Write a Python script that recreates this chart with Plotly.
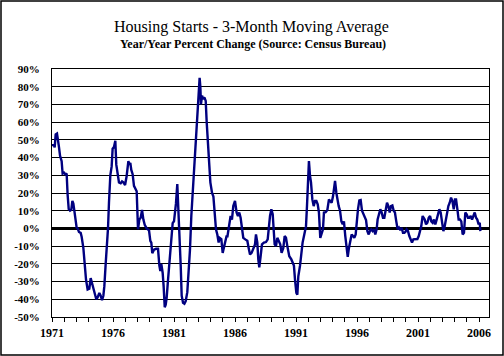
import plotly.graph_objects as go

# Decimal-year positions and 3-month moving average YoY % change
years_1971_1978 = [1971.00, 1971.16, 1971.22, 1971.30, 1971.41, 1971.49, 1971.57, 1971.66, 1971.79, 1971.87,
                   1971.98, 1972.09, 1972.20, 1972.28, 1972.37, 1972.48, 1972.58, 1972.67, 1972.75, 1972.83,
                   1972.91, 1973.02, 1973.10, 1973.21, 1973.35, 1973.43, 1973.57, 1973.68, 1973.79, 1973.92,
                   1974.06, 1974.17, 1974.28, 1974.39, 1974.52, 1974.63, 1974.74, 1974.88, 1974.99, 1975.10,
                   1975.21, 1975.29, 1975.40, 1975.51, 1975.59, 1975.67, 1975.78, 1975.89, 1975.97, 1976.08,
                   1976.19, 1976.27, 1976.38, 1976.49, 1976.63, 1976.74, 1976.85, 1976.99, 1977.12, 1977.26,
                   1977.34, 1977.42, 1977.50, 1977.61, 1977.72, 1977.83, 1977.94]
values_1971_1978 = [47, 47, 45.7, 53, 53.5, 47.5, 46, 41, 38, 31,
                    31.5, 30.5, 31, 19, 11, 10, 10.5, 15.5, 14, 10,
                    7, 0.5, 0, -2, -2.5, -4.7, -11, -21, -29, -34.5,
                    -34, -28, -31, -32.6, -36, -40, -39, -36.4, -38, -40.5,
                    -38, -32.6, -20, -10, 0, 14.5, 30, 35, 45, 46,
                    49.5, 36, 31.5, 26, 25.5, 26.5, 26, 24.5, 29.6, 38,
                    36, 37, 33, 30.6, 24, 22, 21]

years_1978_1985 = [1978.05, 1978.16, 1978.27, 1978.38, 1978.49, 1978.60, 1978.76, 1978.95, 1979.06, 1979.14,
                   1979.22, 1979.36, 1979.53, 1979.69, 1979.80, 1979.88, 1979.96, 1980.07, 1980.15, 1980.24,
                   1980.32, 1980.40, 1980.51, 1980.65, 1980.78, 1980.89, 1981.00, 1981.08, 1981.16, 1981.27,
                   1981.36, 1981.44, 1981.55, 1981.63, 1981.74, 1981.85, 1981.96, 1982.09, 1982.20, 1982.31,
                   1982.42, 1982.50, 1982.61, 1982.72, 1982.83, 1982.94, 1983.02, 1983.10, 1983.16, 1983.21,
                   1983.30, 1983.38, 1983.49, 1983.60, 1983.68, 1983.79, 1983.90, 1983.98, 1984.12, 1984.23,
                   1984.33, 1984.44, 1984.55, 1984.66, 1984.74, 1984.88, 1984.99, 1985.10, 1985.21, 1985.32]
values_1978_1985 = [-0.5, 5, 6, 10.5, 5, 2, 0, -1, -7, -8,
                    -14, -12, -11.5, -11.5, -21, -24, -20, -25, -32.6, -44.5,
                    -43, -39, -29, -17.5, -4.3, 3, 4, 9, 14, 25,
                    12.6, 1.3, -21, -38, -42, -42.5, -41, -36, -25, -12,
                    7, 16.4, 29.6, 41, 54, 63.6, 73, 85, 80, 70,
                    75, 73, 74, 72, 60, 50, 35, 26, 20, 18,
                    9, -0.5, -3.4, -8, -5.3, -6, -13.8, -10, -7, -4]

years_1985_1992 = [1985.37, 1985.48, 1985.64, 1985.75, 1985.86, 1986.00, 1986.13, 1986.24, 1986.35, 1986.46,
                   1986.57, 1986.68, 1986.84, 1987.01, 1987.12, 1987.23, 1987.36, 1987.50, 1987.64, 1987.72,
                   1987.83, 1987.91, 1987.99, 1988.10, 1988.21, 1988.37, 1988.54, 1988.68, 1988.76, 1988.87,
                   1988.98, 1989.09, 1989.17, 1989.25, 1989.36, 1989.47, 1989.58, 1989.71, 1989.82, 1989.96,
                   1990.07, 1990.18, 1990.29, 1990.45, 1990.62, 1990.72, 1990.83, 1990.92, 1991.03, 1991.11,
                   1991.19, 1991.33, 1991.43, 1991.54, 1991.68, 1991.82, 1991.90, 1991.98, 1992.06, 1992.15,
                   1992.23, 1992.34, 1992.45, 1992.56]
values_1985_1992 = [-5, 1.3, 7, 5, 12.6, 15.5, 9, 7, 9, 6,
                    -0.5, -5.3, -6.2, -7, -11, -14.7, -13.8, -11, -9, -3.4,
                    -8, -17.5, -22, -15.7, -9, -8, -7.7, -6.2, 1.3, 7,
                    10.8, 8, -0.6, -9, -10, -5.3, -7, -9, -13.8, -11,
                    -4.3, -5.3, -10, -15.7, -17.5, -19.4, -21, -29, -36.4, -37.4,
                    -27, -21, -13.8, -8, -3.4, 1.3, 12.6, 27.7, 38, 29.6,
                    26, 16.4, 12.6, 15.5]

years_1992_1999 = [1992.67, 1992.78, 1992.88, 1992.99, 1993.10, 1993.21, 1993.29, 1993.43, 1993.57, 1993.70,
                   1993.79, 1993.92, 1994.03, 1994.11, 1994.20, 1994.31, 1994.39, 1994.50, 1994.61, 1994.72,
                   1994.83, 1994.93, 1995.04, 1995.15, 1995.24, 1995.34, 1995.45, 1995.56, 1995.67, 1995.78,
                   1995.89, 1995.97, 1996.08, 1996.19, 1996.30, 1996.41, 1996.52, 1996.63, 1996.74, 1996.85,
                   1996.96, 1997.06, 1997.17, 1997.28, 1997.39, 1997.50, 1997.61, 1997.69, 1997.80, 1997.91,
                   1998.02, 1998.13, 1998.24, 1998.35, 1998.46, 1998.57, 1998.68, 1998.79, 1998.90, 1999.01,
                   1999.11, 1999.22, 1999.33, 1999.44, 1999.55, 1999.66, 1999.77]
values_1992_1999 = [15.5, 13.6, 9, -5.3, -2.5, -0.5, 9, 9.2, 10.4, 16.4,
                    15.5, 14.5, 18, 22, 26.8, 20, 15.5, 12.6, 10, 4,
                    2.3, 4, -4.3, -12, -16, -11, -7, -3.4, -4.3, -5.3,
                    -3.4, 5, 10.8, 15.8, 16, 10, 8, 6, 4.7, -1.5,
                    -3.4, -1.5, -0.6, -1.5, -0.5, -3.4, -0.5, 5, 8, 10.8,
                    9, 6, 6, 10.8, 14.5, 12.6, 9, 12.6, 13, 10,
                    9, 4, -0.5, 0.4, -1, 0.4, -2.5]

years_1999_2006 = [1999.88, 1999.96, 2000.07, 2000.18, 2000.29, 2000.40, 2000.51, 2000.62, 2000.78, 2000.95,
                   2001.06, 2001.17, 2001.27, 2001.38, 2001.47, 2001.55, 2001.66, 2001.77, 2001.88, 2001.99,
                   2002.09, 2002.20, 2002.31, 2002.42, 2002.53, 2002.64, 2002.75, 2002.86, 2002.97, 2003.08,
                   2003.19, 2003.27, 2003.38, 2003.49, 2003.60, 2003.71, 2003.82, 2003.93, 2004.03, 2004.12,
                   2004.23, 2004.33, 2004.44, 2004.55, 2004.66, 2004.77, 2004.88, 2004.99, 2005.10, 2005.21,
                   2005.32, 2005.43, 2005.54, 2005.65, 2005.76, 2005.86, 2005.97, 2006.06, 2006.11]
values_1999_2006 = [-2.5, -2, -0.5, -1.5, -4.3, -6.2, -8, -6.2, -6.2, -6,
                    -4.3, -1.5, 1.3, 7, 6, 5, 2.3, 3.2, 6, 7,
                    4, 3.2, 5, 2.3, 5, 9, 10.8, 9, 3.2, -1.5,
                    1.3, 5, 9, 12.6, 14.5, 17.4, 15.5, 10.8, 16.4, 16.4,
                    10.8, 5, 5, 4, -3.4, -2.5, 9, 8, 6, 6,
                    7, 5, 7, 9, 6, 5, 2.3, 3.2, -1.5]

years = years_1971_1978 + years_1978_1985 + years_1985_1992 + years_1992_1999 + years_1999_2006
values = values_1971_1978 + values_1978_1985 + values_1985_1992 + values_1992_1999 + values_1999_2006

x_tick_vals = [1971, 1976, 1981, 1986, 1991, 1996, 2001, 2006]
x_tick_text = ["1971", "1976", "1981", "1986", "1991", "1996", "2001", "2006"]
y_tick_vals = [90, 80, 70, 60, 50, 40, 30, 20, 10, 0, -10, -20, -30, -40, -50]
y_tick_text = ["90%", "80%", "70%", "60%", "50%", "40%", "30%", "20%", "10%", "0%",
               "-10%", "-20%", "-30%", "-40%", "-50%"]

title_text = "Housing Starts - 3-Month Moving Average"
subtitle_text = "Year/Year Percent Change (Source: Census Bureau)"

W, H = 504, 356
L, R, T, B = 52, 15, 69, 39
pw, ph = W - L - R, H - T - B

def px(xp):
    return (xp - L) / pw

def py(yp):
    return (H - B - yp) / ph

fig = go.Figure()
fig.add_trace(go.Scatter(x=years, y=values, mode="lines",
                         line=dict(color="#000080", width=2.4), hoverinfo="skip",
                         showlegend=False))

serif = "Liberation Serif, Times New Roman, serif"

fig.update_layout(
    width=W, height=H,
    margin=dict(l=L, r=R, t=T, b=B, pad=0),
    paper_bgcolor="white", plot_bgcolor="white",
    font=dict(family=serif, color="black"),
    xaxis=dict(range=[1971, 2006.82], tickvals=x_tick_vals, ticktext=x_tick_text,
               ticks="outside", ticklen=4, tickcolor="black", tickwidth=1,
               minor=dict(ticks="outside", ticklen=4, dtick=1, tick0=1971, tickcolor="black", showgrid=False),
               showgrid=False, zeroline=False, showline=True, linecolor="black", linewidth=1,
               mirror=True, tickfont=dict(family=serif, size=12, color="black", weight="bold"),
               ticklabelstandoff=1, fixedrange=True),
    yaxis=dict(range=[-50, 90], tickvals=y_tick_vals, ticktext=y_tick_text,
               ticks="", showgrid=True, gridcolor="black", gridwidth=1,
               zeroline=True, zerolinecolor="black", zerolinewidth=3,
               showline=True, linecolor="black", linewidth=1, mirror=True,
               tickfont=dict(family=serif, size=11, color="black", weight="bold"),
               ticklabelstandoff=9, fixedrange=True),
    annotations=[
        dict(text=title_text, xref="paper", yref="paper", x=px(251.5), y=py(27),
             xanchor="center", yanchor="middle", showarrow=False,
             font=dict(family=serif, size=16, color="black")),
        dict(text="<b>" + subtitle_text + "</b>", xref="paper", yref="paper", x=px(253), y=py(44),
             xanchor="center", yanchor="middle", showarrow=False,
             font=dict(family=serif, size=12, color="black")),
    ],
    shapes=[
        dict(type="rect", xref="paper", yref="paper", x0=px(1), x1=px(503), y0=py(355), y1=py(1),
             line=dict(color="black", width=1.5), fillcolor="rgba(0,0,0,0)", layer="above"),
    ],
)

fig.write_html("out.html", config={"displayModeBar": False},
               post_script="document.body.style.margin='0';document.body.style.overflow='hidden';")
